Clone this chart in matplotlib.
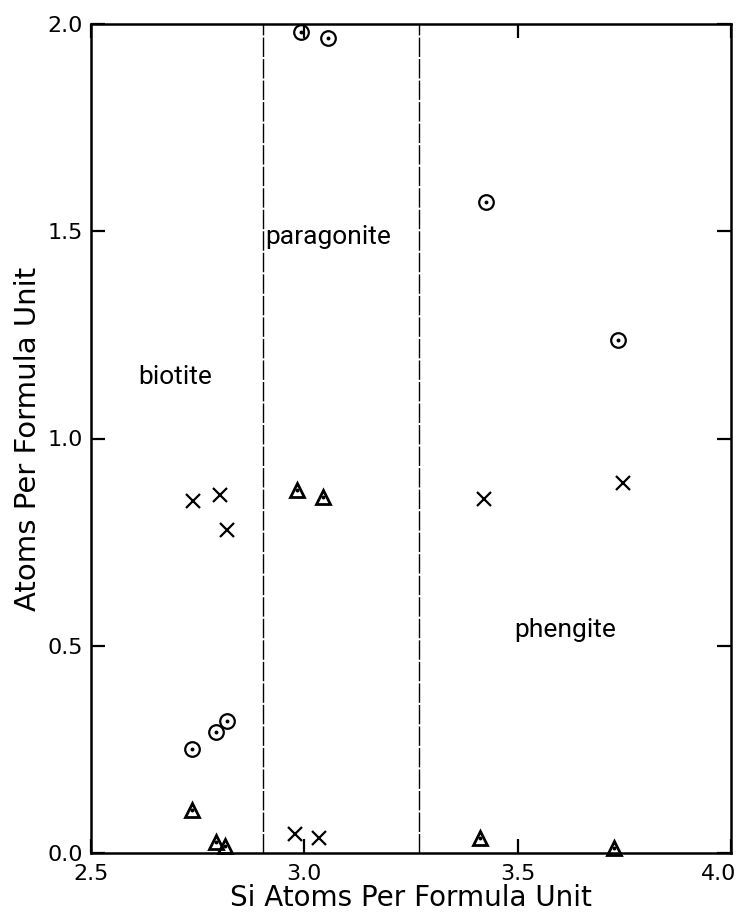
import matplotlib
matplotlib.use("Agg")
import matplotlib.pyplot as plt
from matplotlib.transforms import ScaledTranslation

# Data
circle_x = [2.992, 3.055, 3.425, 3.735, 2.736, 2.794, 2.818]
circle_y = [1.981, 1.966, 1.571, 1.238, 0.252, 0.292, 0.319]

tri_x = [2.737, 2.792, 2.814, 2.983, 3.044, 3.412, 3.726]
tri_y = [0.104, 0.027, 0.017, 0.876, 0.858, 0.036, 0.011]

cross_x = [2.738, 2.802, 2.819, 2.978, 3.035, 3.422, 3.748]
cross_y = [0.850, 0.864, 0.779, 0.046, 0.035, 0.853, 0.892]

boundaries = [2.903, 3.268]

region_labels = ["biotite", "paragonite", "phengite"]
region_x = [2.697, 3.055, 3.611]
region_y = [1.148, 1.486, 0.538]

xticks = [2.5, 3.0, 3.5, 4.0]
yticks = [0.0, 0.5, 1.0, 1.5, 2.0]
xticklabels = ["2.5", "3.0", "3.5", "4.0"]
yticklabels = ["0.0", "0.5", "1.0", "1.5", "2.0"]

W, H = 747, 914
fig = plt.figure(figsize=(W / 100, H / 100), dpi=100)
ax = fig.add_axes([91 / W, (H - 853) / H, (731 - 91) / W, (853 - 24) / H])

ax.set_xlim(2.5, 4.0)
ax.set_ylim(0.0, 2.0)

for b in boundaries:
    ax.axvline(b, color="black", lw=1.0, linestyle=(0, (14, 1.5)), zorder=1)

ms = 10.5
mew = 1.6
ax.plot(circle_x, circle_y, linestyle="none", marker="o", ms=ms, mfc="none",
        mec="black", mew=mew, clip_on=False, zorder=3)
ax.plot(circle_x, circle_y, linestyle="none", marker="o", ms=1.8, mfc="black",
        mec="black", clip_on=False, zorder=3)
ax.plot(tri_x, tri_y, linestyle="none", marker="^", ms=ms, mfc="none",
        mec="black", mew=mew + 0.4, clip_on=False, zorder=3)
ax.plot(tri_x, tri_y, linestyle="none", marker="o", ms=1.8, mfc="black",
        mec="black", clip_on=False, zorder=3)
ax.plot(cross_x, cross_y, linestyle="none", marker="x", ms=ms, mec="black",
        mew=mew, clip_on=False, zorder=3)

narrow = ["Roboto", "DejaVu Sans"]
for lab, lx, ly in zip(region_labels, region_x, region_y):
    ax.text(lx, ly, lab, ha="center", va="center", fontsize=19,
            family=narrow, color="black")

tickfont = ["DejaVu Sans"]
ax.set_xticks(xticks)
ax.set_yticks(yticks)
ax.set_xticklabels(xticklabels, family=tickfont, fontsize=16)
ax.set_yticklabels(yticklabels, family=tickfont, fontsize=16)
ax.tick_params(axis="both", direction="in", length=10, width=1.6, top=True, right=True,
               labeltop=False, labelright=False, colors="black")
ax.tick_params(axis="x", pad=8)
ax.tick_params(axis="y", pad=6)

# keep the last x tick label inside the figure, as in the reference
last = ax.get_xticklabels()[-1]
last.set_transform(last.get_transform() + ScaledTranslation(-12 / 100, 0, fig.dpi_scale_trans))

for s in ax.spines.values():
    s.set_linewidth(1.8)
    s.set_color("black")

ax.set_xlabel("Si Atoms Per Formula Unit", family=tickfont, fontsize=20, labelpad=0)
ax.set_ylabel("Atoms Per Formula Unit", family=tickfont, fontsize=21, labelpad=4)

fig.savefig("out.png", dpi=100, facecolor="white")
